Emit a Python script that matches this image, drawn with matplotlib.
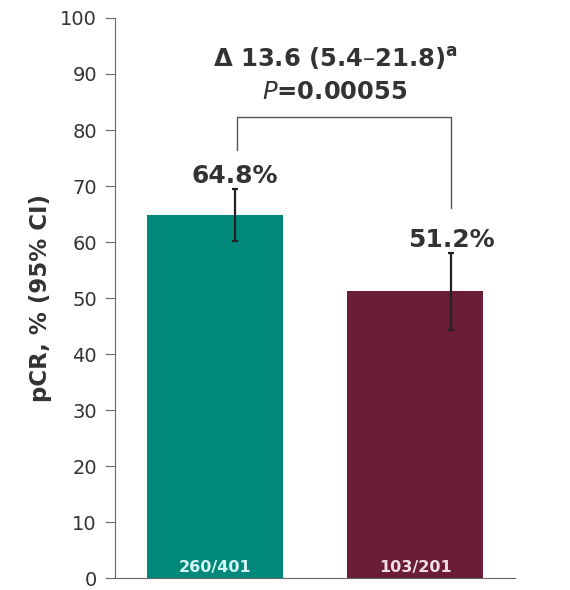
import matplotlib
matplotlib.use("Agg")
import matplotlib.pyplot as plt

categories = ["Arm A", "Arm B"]
values = [64.8, 51.2]
ci_low = [60.1, 44.3]
ci_high = [69.5, 58.1]
counts = ["260/401", "103/201"]
colors = ["#00897A", "#6A1C38"]
count_colors = ["#d4f6f4", "#f0e0e6"]
yticks = [0, 10, 20, 30, 40, 50, 60, 70, 80, 90, 100]
bracket_y = 82.4
bracket_left = 76.5
bracket_right = 66.0

plt.rcParams['font.family'] = ['DejaVu Sans']

fig = plt.figure(figsize=(5.7, 5.9), dpi=100)
ax = fig.add_axes([0.2018, 0.0203, 0.7018, 0.9492])

x = list(range(len(categories)))
ex = [0.1, 1.18]  # error bar / label offset positions (as in original)
ax.bar(x, values, width=0.68, color=colors, zorder=2)
yerr = [[v - l for v, l in zip(values, ci_low)], [h - v for v, h in zip(values, ci_high)]]
ax.errorbar(ex, values, yerr=yerr, fmt='none', ecolor='#222222', elinewidth=1.6, capsize=2.5, capthick=1.6, zorder=3)

for xi, exi, v, h in zip(x, ex, values, ci_high):
    ax.text(exi, h + 1.0, f"{v}%", ha='center', va='baseline', fontsize=18, fontweight='bold', color='#333333')
for xi, c, cc in zip(x, counts, count_colors):
    ax.text(xi, 0.6, c, ha='center', va='bottom', fontsize=11.5, fontweight='bold', color=cc)

# bracket
ax.plot([ex[0] + 0.01, ex[0] + 0.01, ex[1], ex[1]], [bracket_left, bracket_y, bracket_y, bracket_right], color='#555555', lw=1)
ax.text(0.6, 92.7, "Δ 13.6 (5.4–21.8)$^{\\mathregular{a}}$", ha='center', va='center', fontsize=17.5, fontweight='bold', color='#333333')
ax.text(0.6, 86.8, "$\\bf{\\it{P}}$=0.00055", ha='center', va='center', fontsize=17.5, fontweight='bold', color='#333333')

ax.set_xlim(-0.5, 1.5)
ax.set_ylim(0, 100)
ax.set_yticks(yticks)
ax.set_yticklabels([str(t) for t in yticks], fontsize=14, color='#333333')
ax.set_xticks([])
for s in ['top', 'right']:
    ax.spines[s].set_visible(False)
ax.spines['left'].set_color('#666666')
ax.spines['bottom'].set_color('#666666')
ax.tick_params(axis='y', direction='out', length=7, color='#666666', pad=6)
ax.set_ylabel("pCR, % (95% CI)", fontsize=16.5, fontweight='bold', color='#333333', labelpad=6)

fig.savefig("out.png", dpi=100)
